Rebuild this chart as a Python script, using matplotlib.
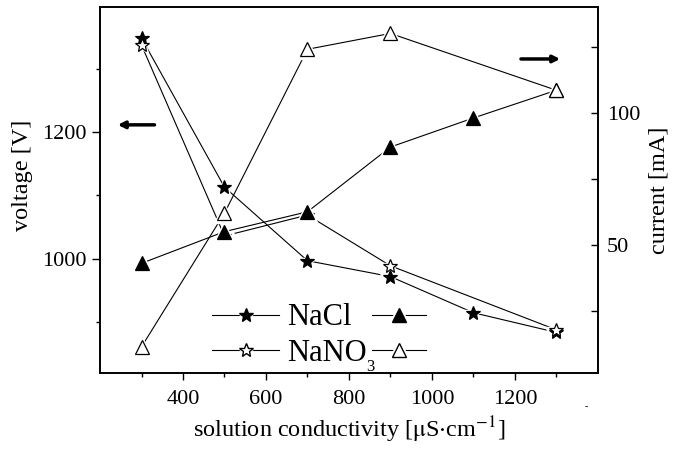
import numpy as np
import matplotlib
matplotlib.use('Agg')
from matplotlib import pyplot as plt
from matplotlib.lines import Line2D
from matplotlib.legend_handler import HandlerTuple

plt.rcParams['font.family'] = ['Liberation Serif', 'DejaVu Serif']
plt.rcParams['mathtext.fontset'] = 'stix'

# data
cond_nacl = [300, 500, 700, 900, 1100, 1300]
volt_nacl = [1348, 1113, 997, 972, 915, 884]
curr_nacl = [43, 55, 62.5, 87, 98, 108.5]

cond_nano3 = [300, 500, 700, 900, 1300]
volt_nano3 = [1337, 1036, 1069, 989, 888]
curr_nano3 = [11.4, 62, 124, 130, 108.5]

fig = plt.figure(figsize=(6.74, 4.49), dpi=100)
ax = fig.add_axes([0.1484, 0.1693, 0.7386, 0.8151])
ax2 = ax.twinx()

lw = 0.8
ms = 10.5

def serie(a, x, y, marker, fill):
    a.plot(x, y, '-', color='k', lw=lw, zorder=1)
    a.plot(x, y, ls='none', marker=marker, ms=ms + 4, mfc='white', mec='white', zorder=2)
    a.plot(x, y, ls='none', marker=marker, ms=ms, mfc=fill, mec='k', mew=0.9, zorder=3)

serie(ax, cond_nacl, volt_nacl, '*', 'k')
serie(ax, cond_nano3, volt_nano3, '*', 'white')
serie(ax2, cond_nacl, curr_nacl, '^', 'k')
serie(ax2, cond_nano3, curr_nano3, '^', 'white')

ax.set_xlim(200, 1400)
ax.set_ylim(820, 1397)
ax2.set_ylim(1.5, 140)

ax.set_xticks([400, 600, 800, 1000, 1200])
ax.set_xticks([300, 500, 700, 900, 1100, 1300], minor=True)
ax.set_yticks([1000, 1200])
ax.set_yticks([900, 1100, 1300], minor=True)
ax2.set_yticks([50, 100])
ax2.set_yticks([25, 75, 125], minor=True)

ax.tick_params(which='major', direction='out', length=5.5, width=1, labelsize=16)
ax.tick_params(which='minor', direction='out', length=3, width=1)
ax.tick_params(axis='x', which='major', length=5, pad=7)
ax.tick_params(axis='y', which='major', pad=4)
ax2.tick_params(which='both', direction='in', length=5, width=1, labelsize=16, pad=6.5)
for a in (ax, ax2):
    for s in a.spines.values():
        s.set_linewidth(1.2)

ax.set_xlabel(r'solution conductivity [$\mathrm{\mu}$S$\cdot$cm$^{-1}$]', fontsize=17.5, labelpad=4)
ax.set_ylabel('voltage [V]', fontsize=17.5)
ax2.set_ylabel('current [mA]', fontsize=17.5)
ax.yaxis.set_label_coords(-0.134, 0.54)
ax2.yaxis.set_label_coords(1.102, 0.5)

# arrows
ax.annotate('', xy=(0.03, 0.678), xytext=(0.115, 0.678), xycoords='axes fraction',
            arrowprops=dict(arrowstyle='-|>', lw=2.5, color='k', mutation_scale=10))
ax.annotate('', xy=(0.93, 0.858), xytext=(0.84, 0.858), xycoords='axes fraction',
            arrowprops=dict(arrowstyle='-|>', lw=2.5, color='k', mutation_scale=10))

# legend
def handle(marker, fill):
    return (Line2D([], [], color='k', lw=lw),
            Line2D([], [], ls='none', marker=marker, ms=ms + 6, mfc='white', mec='white'),
            Line2D([], [], ls='none', marker=marker, ms=ms, mfc=fill, mec='k'))

hmap = {tuple: HandlerTuple(ndivide=1)}
leg1 = ax.legend([handle('*', 'k'), handle('*', 'white')], ['NaCl', 'NaNO'],
                 frameon=False, fontsize=22, loc='upper left', bbox_to_anchor=(0.225, 0.19),
                 handlelength=2.2, handletextpad=0.26, labelspacing=0.2, borderpad=0,
                 borderaxespad=0, handler_map=hmap)
ax.add_artist(leg1)
leg2 = ax.legend([handle('^', 'k'), handle('^', 'white')], ['', ''],
                 frameon=False, fontsize=22, loc='upper left', bbox_to_anchor=(0.547, 0.19),
                 handlelength=1.75, handletextpad=0, labelspacing=0.2, borderpad=0,
                 borderaxespad=0, handler_map=hmap)

# low subscript 3 after "NaNO"
fig.canvas.draw()
bb = leg1.get_texts()[1].get_window_extent()
base = bb.y0 + 0.216 * 22 * 100 / 72
x3, y3 = fig.transFigure.inverted().transform((bb.x1 - 0.5, base + 1.5))
fig.text(x3, y3, '3', fontsize=12, ha='left', va='top')

fig.text(0.868, 0.088, '-', fontsize=7)

fig.savefig('out.png', dpi=100)
